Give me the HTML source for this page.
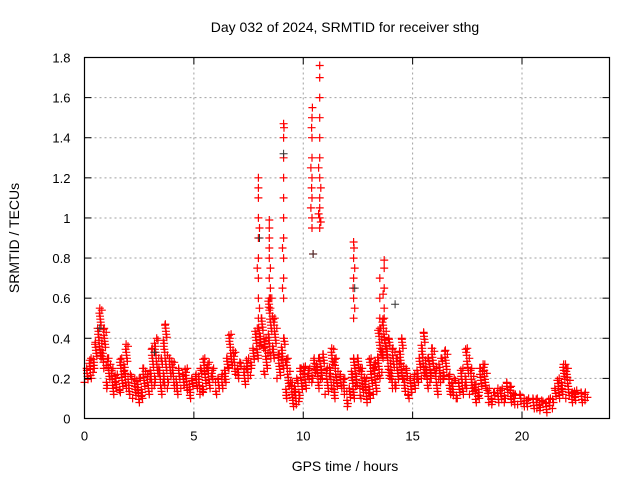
<!DOCTYPE html>
<html><head><meta charset="utf-8"><style>
body{margin:0;background:#fff}
svg{display:block;font-family:"Liberation Sans",sans-serif}
</style></head><body>
<svg id="chart" width="640" height="480" xmlns="http://www.w3.org/2000/svg">
<rect width="640" height="480" fill="#fff"/>
<g id="grid"></g>
<g id="pts"></g>
<g id="axes"></g>
<text x="345" y="32" font-size="14" text-anchor="middle" fill="#000">Day 032 of 2024, SRMTID for receiver sthg</text>
<text x="345" y="471" font-size="14" text-anchor="middle" fill="#000">GPS time / hours</text>
<text transform="translate(19,238) rotate(-90)" font-size="14" text-anchor="middle" fill="#000">SRMTID / TECUs</text>
</svg>
<script>
const xTicks=[0,5,10,15,20];
const yTicks=[0,0.2,0.4,0.6,0.8,1,1.2,1.4,1.6,1.8];
const yTickLabels=["0","0.2","0.4","0.6","0.8","1","1.2","1.4","1.6","1.8"];
const binStart=0, binStep=0.2;
const binLow=[.18,.2,.25,.3,.25,.15,.12,.14,.13,.15,.12,.1,.08,.1,.12,.15,.18,.12,.15,.18,.15,.12,.15,.14,.1,.15,.12,.13,.15,.18,.12,.15,.18,.25,.22,.2,.17,.2,.25,.3,.35,.22,.3,.3,.2,.25,.1,.06,.07,.1,.15,.18,.2,.15,.2,.12,.15,.1,.15,.12,.06,.1,.15,.1,.08,.1,.12,.2,.3,.2,.15,.15,.2,.12,.1,.15,.18,.2,.15,.2,.12,.18,.2,.12,.1,.1,.12,.15,.12,.08,.1,.15,.08,.07,.08,.08,.1,.08,.07,.07,.06,.06,.05,.05,.04,.03,.05,.08,.1,.12,.1,.08,.09,.08,.09];
const binHigh=[.25,.3,.38,.55,.45,.3,.25,.22,.3,.37,.22,.2,.2,.25,.22,.35,.4,.3,.47,.3,.28,.25,.22,.25,.2,.22,.25,.3,.28,.25,.2,.22,.3,.42,.33,.28,.25,.3,.35,.45,.5,.4,.6,.5,.32,.4,.3,.18,.2,.25,.26,.25,.3,.3,.32,.25,.35,.3,.22,.2,.15,.3,.3,.25,.2,.3,.28,.45,.5,.4,.35,.3,.4,.25,.2,.22,.3,.43,.3,.35,.25,.3,.34,.22,.2,.18,.25,.35,.25,.17,.25,.27,.15,.13,.15,.15,.18,.16,.12,.12,.1,.1,.1,.1,.09,.08,.1,.15,.2,.27,.25,.13,.14,.13,.13];
const spikeTimes=[7.95,7.95,7.95,7.95,7.95,7.95,7.95,7.95,7.95,7.9,7.9,8.0,8.0,8.45,8.45,8.45,8.45,8.45,8.45,8.45,8.5,8.5,8.5,9.1,9.1,9.1,9.1,9.1,9.1,9.1,9.1,9.1,9.1,9.12,9.05,9.05,10.4,10.4,10.4,10.4,10.4,10.4,10.4,10.42,10.45,10.35,10.35,10.38,10.38,10.75,10.75,10.75,10.75,10.75,10.75,10.75,10.75,10.75,10.75,10.75,10.8,10.8,10.7,10.7,12.3,12.3,12.3,12.3,12.32,12.3,12.35,12.35,12.28,13.5,13.5,13.5,13.7,13.7,13.7,13.7,13.55,13.65];
const spikeValues=[.5,.6,.7,.8,.9,1.0,1.1,1.2,1.15,.45,.75,.55,.95,.6,.7,.8,.85,.9,.95,.99,.55,.65,.75,.6,.7,.8,.9,1.0,1.1,1.2,1.3,1.4,1.47,1.45,.65,.85,.95,1.0,1.1,1.2,1.3,1.4,1.5,1.55,.82,1.05,1.25,1.15,1.45,.95,1.0,1.05,1.1,1.2,1.3,1.4,1.5,1.6,1.7,1.76,.98,1.15,1.02,1.25,.5,.6,.7,.8,.85,.88,.55,.75,.65,.5,.6,.7,.55,.65,.75,.79,.45,.62];
const darkTimes=[8.0,9.1,10.45,12.35,14.2,3.2,0.7];
const darkValues=[0.9,1.32,0.82,0.65,0.57,0.33,0.45];

const L=84.5,R=609.5,T=57.5,B=418.5,XMAX=24,YMAX=1.8;
const sx=t=>L+(R-L)*t/XMAX, sy=v=>B-(B-T)*v/YMAX;
const NS="http://www.w3.org/2000/svg";
function mk(tag,attrs,parent){const e=document.createElementNS(NS,tag);for(const k in attrs)e.setAttribute(k,attrs[k]);parent.appendChild(e);return e;}
const grid=document.getElementById('grid'),axes=document.getElementById('axes'),pts=document.getElementById('pts');
xTicks.forEach(t=>{const x=sx(t);
 if(t>0){const g=mk('line',{x1:x,x2:x,y1:T,y2:B,stroke:'#a0a0a0','stroke-dasharray':'2,3'},grid);
 
 }
 mk('line',{x1:x,x2:x,y1:B,y2:B-7,stroke:'#000'},axes);
 mk('line',{x1:x,x2:x,y1:T,y2:T+7,stroke:'#000'},axes);
 const tx=mk('text',{x:x,y:B+22,'font-size':13,'text-anchor':'middle',fill:'#000'},axes);tx.textContent=t;
 
 
});
yTicks.forEach((v,i)=>{const y=sy(v);
 if(v>0&&v<YMAX){const g=mk('line',{x1:L,x2:R,y1:y,y2:y,stroke:'#a0a0a0','stroke-dasharray':'2,3'},grid);
 
 }
 mk('line',{x1:L,x2:L+7,y1:y,y2:y,stroke:'#000'},axes);
 mk('line',{x1:R,x2:R-7,y1:y,y2:y,stroke:'#000'},axes);
 const tx=mk('text',{x:L-14,y:y+5,'font-size':13,'text-anchor':'end',fill:'#000'},axes);tx.textContent=yTickLabels[i];
 
 
});
const frame=mk('rect',{x:L,y:T,width:R-L,height:B-T,fill:'none',stroke:'#000','stroke-width':1.2},axes);


let d='';
const plus=(t,v)=>{const x=sx(t),y=sy(v);return `M${(x-4).toFixed(1)},${y.toFixed(1)}h8M${x.toFixed(1)},${(y-4).toFixed(1)}v8`;};
const offs=[0,0.11,0.05,0.16,0.08,0.02,0.14,0.19,0.04,0.12,0.07];
binLow.forEach((lo,i)=>{const hi=binHigh[i],t=binStart+i*binStep;
 let k=i;
 for(let v=lo;v<=hi+1e-9;v+=0.015){d+=plus(t+offs[k%offs.length],v);k+=3;}
 d+=plus(t+0.1,hi);
});
spikeTimes.forEach((t,i)=>{d+=plus(t,spikeValues[i]);});
const p=mk('path',{d:d,stroke:'#ff0000','stroke-width':1.2,fill:'none'},pts);


let d2='';darkTimes.forEach((t,i)=>{d2+=plus(t,darkValues[i]);});
const p2=mk('path',{d:d2,stroke:'#333','stroke-width':1,fill:'none'},pts);


</script>
</body></html>
